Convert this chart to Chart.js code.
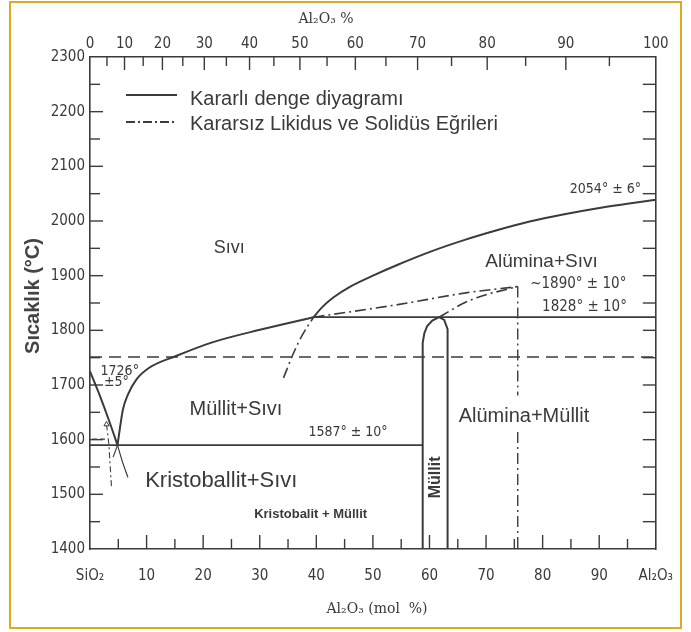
<!DOCTYPE html>
<html><head><meta charset="utf-8">
<script src="https://cdn.jsdelivr.net/npm/chart.js@4.4.0/dist/chart.umd.min.js"></script>
<style>
html,body{margin:0;padding:0;background:#fff;}
#wrap{position:relative;width:691px;height:632px;overflow:hidden;}
#frame{position:absolute;left:9px;top:1px;width:669px;height:624px;border:2px solid #e2a91c;pointer-events:none;}
canvas{position:absolute;left:0;top:0;}
</style></head><body>
<div id="wrap"><canvas id="c" width="691" height="632"></canvas><div id="frame"></div></div>
<script>
// ---- data (x = Al2O3 mol %, y = temperature °C) ----
const sio2Liquidus    = [[0,1725],[1.75,1680],[3.5,1631],[4.86,1590]];
const mulliteLiquidus = [[4.86,1590],[5.26,1619],[5.84,1656],[6.72,1683],[8.19,1710],[10.53,1732],[15.2,1753],[21.6,1778],[30.4,1802],[39.5,1824]];
const aluminaLiquidus = [[39.5,1824],[41,1842],[43,1860],[46,1880],[50,1900],[54.4,1920],[60.2,1944],[66.1,1965],[71.9,1983],[77.7,1999],[83.6,2012],[89.5,2023],[95.3,2032],[100,2039]];
const line1828        = [[39.5,1824],[100,1824]];
const eutecticLine    = [[0,1590],[58.8,1590]];
const mulliteField    = [[58.8,1400],[58.8,1765],[58.8,1777],[59.1,1795],[59.6,1808],[60.5,1818],[61.7,1824],[62.6,1819],[63.2,1802],[63.2,1783],[63.2,1400]];
const sio2LiqExt      = [[4.86,1590],[5.6,1564],[6.7,1531]];
const mulLiqExt       = [[4.86,1590],[4.09,1568]];
const dashed1750      = [[0,1751],[100,1751]];
const smallDash       = [[0.35,1601],[2.98,1601]];
// metastable (dash-dot)
const alLiqMeta       = [[34.2,1713],[36.0,1759],[37.4,1789],[39.5,1824]];
const meta1890        = [[39.5,1824],[54.4,1847],[66.7,1869],[75.6,1880]];
const mulLiqMeta      = [[61.7,1824],[63.5,1835],[66.1,1850],[69.0,1862],[75.6,1880]];
const metaVertUpper   = [[75.6,1880],[75.6,1681]];
const metaVertLower   = [[75.6,1614],[75.6,1400]];
const cristMeta       = [[2.92,1628],[3.33,1592],[3.8,1513]];

// ---- tick labels ----
const yTickLabels = [1400,1500,1600,1700,1800,1900,2000,2100,2200,2300];
const yMinorTicks = [1450,1550,1650,1750,1850,1950,2050,2150,2250];
const bottomTickLabels = ['SiO₂','10','20','30','40','50','60','70','80','90','Al₂O₃'];
const bottomMinorTicks = [5,15,25,35,45,55,65,75,85,95];
const topTickLabels = ['0','10','20','30','40','50','60','70','80','90','100'];      // Al2O3 wt %
const topTickMol    = [0,6.1,12.8,20.2,28.2,37.1,46.9,57.9,70.2,84.1,100];            // same ticks, mol % position
const topMinorMol   = [3.0,9.4,16.4,24.1,32.5,41.9,52.3,63.9,77.0,91.8];              // 5,15,...,95 wt %

const SANS = '"Liberation Sans", Arial, sans-serif';
const NARROW = '"Liberation Sans Narrow", "DejaVu Sans Condensed", sans-serif';
const regionLabels = [
  {t:'Sıvı', x:24.6, y:1951, f:'18px '+SANS},
  {t:'Müllit+Sıvı', x:25.8, y:1656, f:'20px '+SANS},
  {t:'Kristoballit+Sıvı', x:23.2, y:1524, f:'22px '+SANS},
  {t:'Kristobalit + Müllit', x:39.0, y:1464, f:'bold 13px '+SANS},
  {t:'Alümina+Sıvı', x:79.8, y:1926, f:'19px '+SANS},
  {t:'Alümina+Müllit', x:76.7, y:1643, f:'20px '+SANS},
  {t:'1587° ± 10°', x:45.6, y:1614, f:'14px '+NARROW},
  {t:'1726°', x:5.26, y:1725, f:'14px '+NARROW},
  {t:'±5°', x:4.65, y:1705, f:'14px '+NARROW},
  {t:'~1890° ± 10°', x:86.3, y:1884, f:'15px '+NARROW},
  {t:'1828° ± 10°', x:87.4, y:1842, f:'15px '+NARROW},
  {t:'2054° ± 6°', x:91.1, y:2057, f:'14px '+NARROW}
];

const LINE = '#3b3b3b';
const TXT = '#3a3a3a';
const DASHDOT = [11,4,2,4];

function ds(arr, extra){
  return Object.assign({
    data: arr.map(p => ({x:p[0], y:p[1]})),
    showLine:true, pointRadius:0, borderColor:LINE, borderWidth:2, fill:false, tension:0
  }, extra||{});
}
const mono = {cubicInterpolationMode:'monotone'};

const decor = {
  id:'decor',
  afterDraw(chart){
    const ctx = chart.ctx, xs = chart.scales.x, ys = chart.scales.y, a = chart.chartArea;
    ctx.save();
    ctx.strokeStyle = LINE; ctx.lineWidth = 1.4;
    const seg = (x1,y1,x2,y2)=>{ctx.beginPath();ctx.moveTo(x1,y1);ctx.lineTo(x2,y2);ctx.stroke();};
    // left & right ticks (inward)
    yTickLabels.forEach(v=>{const p=ys.getPixelForValue(v); if(v>1400&&v<2300){seg(a.left,p,a.left+13,p); seg(a.right,p,a.right-13,p);}});
    yMinorTicks.forEach(v=>{const p=ys.getPixelForValue(v); seg(a.left,p,a.left+10,p); seg(a.right,p,a.right-13,p);});
    // bottom ticks
    [10,20,30,40,50,60,70,80,90].forEach(v=>{const p=xs.getPixelForValue(v); seg(p,a.bottom,p,a.bottom-14);});
    bottomMinorTicks.forEach(v=>{const p=xs.getPixelForValue(v); seg(p,a.bottom,p,a.bottom-10);});
    // top ticks
    topTickMol.forEach(v=>{if(v>0&&v<100){const p=xs.getPixelForValue(v); seg(p,a.top,p,a.top+13);}});
    topMinorMol.forEach(v=>{const p=xs.getPixelForValue(v); seg(p,a.top,p,a.top+9);});

    // region / value labels
    ctx.fillStyle = TXT; ctx.textAlign='center'; ctx.textBaseline='middle';
    regionLabels.forEach(l=>{ctx.font=l.f; ctx.fillText(l.t, xs.getPixelForValue(l.x), ys.getPixelForValue(l.y));});
    // vertical Müllit
    ctx.save();
    ctx.translate(xs.getPixelForValue(61.1), ys.getPixelForValue(1531));
    ctx.rotate(-Math.PI/2);
    ctx.font='bold 16px '+SANS;
    ctx.fillText('Müllit',0,0);
    ctx.restore();

    // legend
    ctx.lineWidth = 2; ctx.strokeStyle = LINE;
    seg(126,95,177,95);
    ctx.setLineDash([9,3,2,3]); seg(126,122,177,122); ctx.setLineDash([]);
    ctx.textAlign='left'; ctx.font='20px '+SANS;
    ctx.fillText('Kararlı denge diyagramı',190,99);
    ctx.fillText('Kararsız Likidus ve Solidüs Eğrileri',190,124);

    // axis titles
    ctx.textAlign='center';
    ctx.save();
    ctx.translate(33,296); ctx.rotate(-Math.PI/2);
    ctx.font='bold 20px '+SANS; ctx.fillStyle='#444';
    ctx.fillText('Sıcaklık (°C)',0,0);
    ctx.restore();
    ctx.font='14px "DejaVu Serif", "Liberation Serif", serif';
    ctx.fillText('Al₂O₃ %',326,19);
    ctx.fillText('Al₂O₃ (mol  %)',377,609);
    ctx.restore();
  }
};

new Chart(document.getElementById('c'), {
  type:'scatter',
  data:{datasets:[
    ds(sio2Liquidus, mono),
    ds(mulliteLiquidus, mono),
    ds(aluminaLiquidus, mono),
    ds(line1828, {borderWidth:1.8}),
    ds(eutecticLine, {borderWidth:1.6}),
    ds(mulliteField, {borderWidth:2}),
    ds(sio2LiqExt, Object.assign({borderWidth:1.2}, mono)),
    ds(mulLiqExt, {borderWidth:1.2}),
    ds(dashed1750, {borderWidth:1.5, borderDash:[12,7]}),
    ds(smallDash, {borderWidth:1.2, borderDash:[5,3]}),
    ds(alLiqMeta, Object.assign({borderWidth:1.6, borderDash:DASHDOT}, mono)),
    ds(meta1890, Object.assign({borderWidth:1.6, borderDash:DASHDOT}, mono)),
    ds(mulLiqMeta, Object.assign({borderWidth:1.6, borderDash:DASHDOT}, mono)),
    ds(metaVertUpper, {borderWidth:1.4, borderDash:DASHDOT}),
    ds(metaVertLower, {borderWidth:1.4, borderDash:DASHDOT}),
    ds(cristMeta, {borderWidth:1.1, borderDash:[6,3,2,3], pointStyle:'triangle', pointRadius:c=>c.dataIndex===0?3:0, pointBackgroundColor:'#fff', pointBorderColor:LINE, pointBorderWidth:1})
  ]},
  options:{
    responsive:false, animation:false,
    layout:{padding:0},
    plugins:{legend:{display:false}, tooltip:{enabled:false}},
    scales:{
      x:{type:'linear', position:'bottom', min:0, max:100,
         afterFit(s){s.height=83;},
         grid:{display:false, drawTicks:false}, border:{display:true, color:LINE, width:1.6},
         ticks:{stepSize:10, autoSkip:false, maxRotation:0, padding:18, color:TXT, font:{family:NARROW, size:15},
                callback:(v)=>bottomTickLabels[Math.round(v/10)]}},
      x2:{type:'linear', position:'top', min:0, max:100,
         afterFit(s){s.height=57;},
         afterBuildTicks(s){s.ticks = topTickMol.map(v=>({value:v}));},
         grid:{display:false, drawTicks:false}, border:{display:true, color:LINE, width:1.6},
         ticks:{autoSkip:false, maxRotation:0, padding:4, color:TXT, font:{family:NARROW, size:15},
                callback:(v,i)=>topTickLabels[i]}},
      y:{type:'linear', position:'left', min:1400, max:2300,
         afterFit(s){s.width=90;},
         afterBuildTicks(s){s.ticks = yTickLabels.map(v=>({value:v}));},
         grid:{display:false, drawTicks:false}, border:{display:true, color:LINE, width:1.6},
         ticks:{padding:5, color:TXT, font:{family:NARROW, size:15}, callback:(v)=>String(v)}},
      y2:{type:'linear', position:'right', min:1400, max:2300,
         afterFit(s){s.width=31;},
         grid:{display:false, drawTicks:false}, border:{display:true, color:LINE, width:1.6},
         ticks:{display:false}}
    }
  },
  plugins:[decor]
});
</script>
</body></html>
